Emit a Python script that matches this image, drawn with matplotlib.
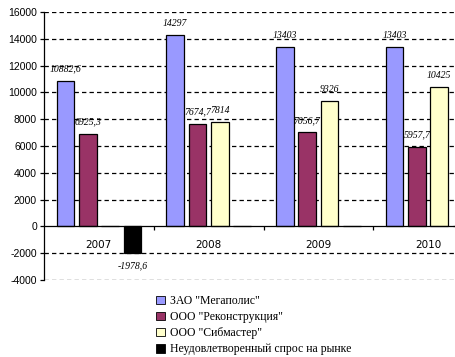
import matplotlib
matplotlib.use("Agg")
import matplotlib.pyplot as plt
import numpy as np
from matplotlib.patches import Patch

years = ["2007", "2008", "2009", "2010"]
megapolis = [10882.6, 14297, 13403, 13403]
rekonstr = [6925.3, 7674.7, 7056.7, 5957.7]
sibmaster = [np.nan, 7814, 9326, 10425]
unmet = [-1978.6, np.nan, np.nan, np.nan]
series_names = ['ЗАО "Мегаполис"', 'ООО "Реконструкция"', 'ООО "Сибмастер"',
                'Неудовлетворенный спрос на рынке']
colors = ["#9999FF", "#993366", "#FFFFCC", "#000000"]
yticks = list(range(-4000, 16001, 2000))

fig = plt.figure(figsize=(4.55, 3.57), dpi=100)
ax = fig.add_axes([44/455, 1-280/357, 439/455, 268/357])

series = [megapolis, rekonstr, sibmaster, unmet]
x = np.arange(len(years))
slot = 0.203
bw = 0.16
for i, (vals, c) in enumerate(zip(series, colors)):
    off = (i - 1.5) * slot
    v = np.array(vals, dtype=float)
    ax.bar(x + off, np.nan_to_num(v), width=bw, color=c, edgecolor="black",
           linewidth=0.9, zorder=3)
    for xi, val in zip(x, v):
        if np.isnan(val):
            continue
        txt = f"{val:g}".replace(".", ",")
        if val >= 0:
            ax.annotate(txt, (xi + off, val), xytext=(0, 5), textcoords="offset points",
                        ha="center", va="bottom", fontsize=7,
                        family="Liberation Serif", style="italic", zorder=4)
        else:
            ax.annotate(txt, (xi + off, val), xytext=(0, -6), textcoords="offset points",
                        ha="center", va="top", fontsize=7,
                        family="Liberation Serif", style="italic", zorder=4)

ax.set_xlim(-0.5, 3.5)
ax.set_ylim(-4000, 16000)
ax.set_yticks(yticks)
ax.set_yticklabels([str(t) for t in yticks])
ax.tick_params(axis="y", direction="out", length=3, width=0.9, pad=2, labelsize=7.5)

for t in yticks:
    if t != 0:
        ax.axhline(t, color="black", linestyle=(0, (3.5, 2.5)), linewidth=0.9, zorder=1)

ax.set_xticks(x)
ax.set_xticklabels(years)
ax.set_xticks([0.5, 1.5, 2.5], minor=True)
ax.tick_params(axis="x", which="major", length=0, pad=10, labelsize=7.5)
ax.tick_params(axis="x", which="minor", direction="out", length=3, width=0.9)
for lab in ax.get_xticklabels() + ax.get_yticklabels():
    lab.set_family("Liberation Sans")
    lab.set_fontsize(7.5)

for s in ["top", "right"]:
    ax.spines[s].set_visible(False)
ax.spines["bottom"].set_position(("data", 0))
ax.spines["bottom"].set_linewidth(0.9)
ax.spines["left"].set_linewidth(0.9)
ax.spines["bottom"].set_zorder(5)

handles = [Patch(facecolor=c, edgecolor="black", linewidth=0.6) for c in colors]
fig.legend(handles, series_names, loc="upper left", bbox_to_anchor=(156/455, 1-295/357),
           frameon=False, prop={"family": "Liberation Serif", "size": 8.5},
           handlelength=0.75, handleheight=0.75, handletextpad=0.4,
           labelspacing=0.35, borderaxespad=0, borderpad=0)

fig.savefig("out.png", dpi=100)
